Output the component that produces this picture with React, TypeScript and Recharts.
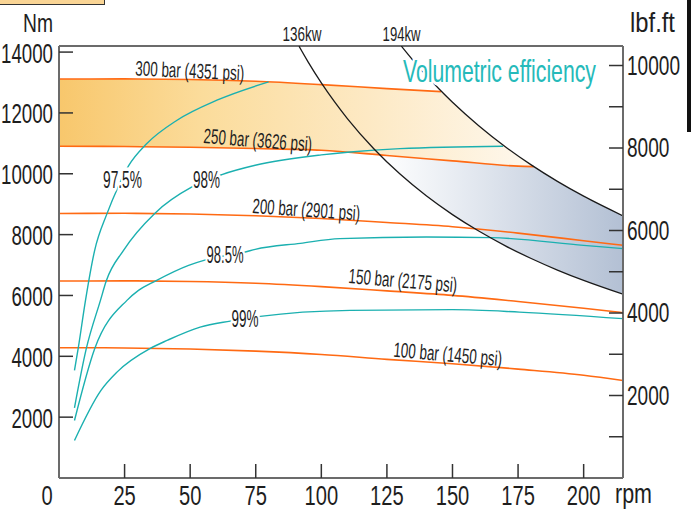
import React from "react";
import {
  Area,
  ComposedChart,
  Line,
  ReferenceDot,
  ReferenceLine,
  XAxis,
  YAxis,
} from "recharts";

const FONT = '"Liberation Sans", Arial, sans-serif';
const ORANGE = "#ff6a13";
const TEAL = "#1bb0b0";
const AXIS = "#6b6b6b";
const INK = "#1e1e1e";

// axes
const X_TICKS = [0, 25, 50, 75, 100, 125, 150, 175, 200];
const NM_TICKS = [2000, 4000, 6000, 8000, 10000, 12000, 14000];
const LBF_TICKS = [1000, 2000, 3000, 4000, 5000, 6000, 7000, 8000, 9000, 10000];
const NM_MAX = 14200;
const LBF_MAX = 10473;

// pressure lines (rpm -> Nm)
const PRESS_RPM = [0, 25, 50, 75, 100, 125, 150, 175, 200, 215];
const BAR_100 = [4283, 4275, 4240, 4170, 4060, 3900, 3757, 3580, 3380, 3207];
const BAR_150 = [6474, 6480, 6460, 6400, 6290, 6150, 6003, 5800, 5580, 5434];
const BAR_200 = [8694, 8700, 8680, 8620, 8530, 8400, 8260, 8050, 7800, 7648];
const BAR_250_RPM = [0, 25, 50, 75, 100, 125, 150, 175, 181];
const BAR_250 = [10905, 10895, 10872, 10830, 10773, 10600, 10425, 10250, 10235];
const BAR_300_RPM = [0, 25, 50, 75, 100, 125, 145.6];
const BAR_300 = [13115, 13118, 13100, 13040, 12930, 12800, 12700];

// power limits
const KW136_RPM = [91.5, 95, 100, 105, 110, 120, 130, 140, 150, 160, 170, 180, 190, 200, 215];
const KW136 = [14193, 13671, 12987, 12369, 11806, 10823, 9990, 9276, 8658, 8117, 7640, 7215, 6835, 6494, 6040];
const KW194_RPM = [130.5, 135, 140, 145, 150, 160, 170, 180, 190, 200, 215];
const KW194 = [14196, 13723, 13233, 12776, 12350, 11579, 10897, 10292, 9750, 9263, 8617];

// shaded bands
const OR_BAND_RPM = [0, 25, 50, 75, 100, 125, 145.6, 150, 155, 160, 165, 170, 175, 181];
const OR_BAND_LOW = [10905, 10895, 10872, 10830, 10773, 10600, 10455, 10425, 10390, 10355, 10320, 10285, 10250, 10235];
const OR_BAND_HIGH = [13115, 13118, 13100, 13040, 12930, 12800, 12700, 12350, 11952, 11579, 11228, 10897, 10586, 10235];
const BL_BAND_RPM = [122.3, 130, 140, 150, 160, 170, 181, 190, 200, 215];
const BL_BAND_LOW = [10620, 9990, 9276, 8658, 8117, 7640, 7175, 6835, 6494, 6040];
const BL_BAND_HIGH = [10620, 10565, 10495, 10425, 10355, 10285, 10235, 9750, 9263, 8617];

// volumetric efficiency
const EFF975_RPM = [5.9, 7.3, 10.1, 13.6, 18.3, 22.7, 26.5, 33.5, 45, 60.2, 79.9];
const EFF975 = [3536, 4250, 5839, 7484, 8690, 9600, 10257, 10993, 11760, 12418, 13020];
const EFF98_RPM = [5.9, 10.4, 15.8, 18, 24.6, 36.4, 50.7, 62.1, 74.8, 100, 111, 130, 169.3];
const EFF98 = [2309, 4250, 5839, 6474, 7484, 8690, 9566, 9974, 10280, 10620, 10717, 10826, 10905];
const EFF985_RPM = [5.9, 13.6, 25.9, 30.3, 36.7, 49.4, 56.2, 71, 74.8, 92, 107, 140, 165, 200, 215];
const EFF985 = [1891, 4250, 5839, 6168, 6474, 6990, 7180, 7428, 7516, 7714, 7868, 7921, 7900, 7648, 7540];
const EFF99_RPM = [5.9, 16, 22.1, 34.8, 41.2, 53.8, 65.3, 76.7, 111, 150, 175.5, 215];
const EFF99 = [1234, 2880, 3480, 4260, 4523, 4960, 5158, 5312, 5510, 5533, 5454, 5237];

const pts = (xs: number[], ys: number[]) => xs.map((rpm, i) => ({ rpm, nm: ys[i] }));
const band = (xs: number[], lo: number[], hi: number[]) =>
  xs.map((rpm, i) => ({ rpm, band: [lo[i], hi[i]] }));

// the drawing uses a narrow technical lettering: squeeze a regular face to the measured width
let measureCtx: CanvasRenderingContext2D | null = null;
function textWidth(text: string, size: number) {
  if (!measureCtx) measureCtx = document.createElement("canvas").getContext("2d");
  if (!measureCtx) return text.length * size * 0.55;
  measureCtx.font = `${size}px ${FONT}`;
  return measureCtx.measureText(text).width;
}

interface TextProps {
  x: number;
  y: number;
  text: string;
  size: number;
  width: number;
  anchor?: "start" | "middle" | "end";
  fill?: string;
  rotate?: number;
  halo?: boolean;
}

function CondText({ x, y, text, size, width, anchor = "start", fill = INK, rotate = 0, halo = false }: TextProps) {
  const sx = width / textWidth(text, size);
  return (
    <text
      transform={`translate(${x} ${y}) rotate(${rotate}) scale(${sx} 1)`}
      fontSize={size}
      fontFamily={FONT}
      textAnchor={anchor}
      fill={fill}
      stroke={halo ? "#fff" : "none"}
      strokeWidth={halo ? 7 : 0}
      strokeLinejoin="round"
      paintOrder="stroke"
    >
      {text}
    </text>
  );
}

const LeftTick = ({ x, y, payload }: any) => {
  const s = String(payload.value);
  return (
    <g>
      <line x1={x} x2={x + 14} y1={y} y2={y} stroke="#333" strokeWidth={1.5} />
      <CondText x={x - 6} y={y + 10.5} text={s} size={28} width={s.length * 10.4} anchor="end" />
    </g>
  );
};

const RightTick = ({ x, y, payload }: any) => {
  const v = payload.value as number;
  const s = String(v);
  return (
    <g>
      <line x1={x - 14} x2={x} y1={y} y2={y} stroke="#333" strokeWidth={1.5} />
      {v % 2000 === 0 && (
        <CondText x={x + 4} y={y + 9} text={s} size={27} width={s.length * 10.6} />
      )}
    </g>
  );
};

const BottomTick = ({ x, y, payload }: any) => {
  const v = payload.value as number;
  const s = String(v);
  return (
    <g>
      {v > 0 && <line x1={x} x2={x} y1={y - 14} y2={y} stroke="#333" strokeWidth={1.5} />}
      <CondText
        x={v === 0 ? x - 12 : x}
        y={y + 27}
        text={s}
        size={27}
        width={s.length * 11.2}
        anchor="middle"
      />
    </g>
  );
};

interface Note {
  rpm: number;
  nm: number;
  text: string;
  size: number;
  width: number;
  anchor?: "start" | "middle" | "end";
  fill?: string;
  rotate?: number;
  halo?: boolean;
}

const NOTES: Note[] = [
  { rpm: 29.0, nm: 13230, text: "300 bar (4351 psi)", size: 21, width: 109, rotate: 2.6 },
  { rpm: 54.9, nm: 11011, text: "250 bar (3626 psi)", size: 21, width: 109, rotate: 4.5 },
  { rpm: 73.6, nm: 8711, text: "200 bar (2901 psi)", size: 21, width: 108, rotate: 4 },
  { rpm: 110.2, nm: 6410, text: "150 bar (2175 psi)", size: 21, width: 109, rotate: 5 },
  { rpm: 127.3, nm: 3987, text: "100 bar (1450 psi)", size: 21, width: 109, rotate: 5 },
  { rpm: 24.2, nm: 9532, text: "97.5%", size: 23, width: 39, anchor: "middle", halo: true },
  { rpm: 56.2, nm: 9532, text: "98%", size: 23, width: 27, anchor: "middle", halo: true },
  { rpm: 63.3, nm: 7067, text: "98.5%", size: 23, width: 37, anchor: "middle", halo: true },
  { rpm: 70.9, nm: 4973, text: "99%", size: 23, width: 27, anchor: "middle", halo: true },
  { rpm: 131.1, nm: 13026, text: "Volumetric  efficiency", size: 32, width: 199, fill: "#25baba", halo: true },
  { rpm: 92.6, nm: 14364, text: "136kw", size: 20, width: 39, anchor: "middle" },
  { rpm: 130.6, nm: 14364, text: "194kw", size: 20, width: 38, anchor: "middle" },
];

export default function App() {
  return (
    <div style={{ position: "absolute", left: 0, top: 0, width: 691, height: 510, background: "#fff" }}>
      <div
        style={{
          position: "absolute",
          left: -2,
          top: -2,
          width: 105,
          height: 5,
          background: "#fad595",
          border: "1.5px solid #333",
        }}
      />
      <div style={{ position: "absolute", left: 687, top: 0, width: 4, height: 132, background: "#111" }} />
      <ComposedChart width={691} height={510} margin={{ top: 46, right: 0, bottom: 0, left: 0 }}>
        <defs>
          <linearGradient id="orangeFill" x1="0" y1="0" x2="1" y2="0">
            <stop offset="0" stopColor="#f8c76c" />
            <stop offset="0.3" stopColor="#fbdc9b" />
            <stop offset="0.65" stopColor="#fde9c4" />
            <stop offset="1" stopColor="#fef8ee" />
          </linearGradient>
          <linearGradient id="blueFill" x1="0" y1="0" x2="1" y2="0">
            <stop offset="0" stopColor="#ffffff" />
            <stop offset="0.3" stopColor="#e9edf3" />
            <stop offset="1" stopColor="#b3c0d4" />
          </linearGradient>
        </defs>
        <XAxis
          type="number"
          dataKey="rpm"
          domain={[0, 215]}
          ticks={X_TICKS}
          allowDataOverflow
          height={32}
          axisLine={{ stroke: AXIS, strokeWidth: 2 }}
          tickLine={false}
          tickSize={0}
          tickMargin={0}
          tick={<BottomTick />}
          interval={0}
        />
        <YAxis
          yAxisId="nm"
          type="number"
          domain={[0, NM_MAX]}
          ticks={NM_TICKS}
          allowDataOverflow
          width={59}
          axisLine={{ stroke: AXIS, strokeWidth: 2 }}
          tickLine={false}
          tickSize={0}
          tickMargin={0}
          tick={<LeftTick />}
          interval={0}
        />
        <YAxis
          yAxisId="lbf"
          orientation="right"
          type="number"
          domain={[0, LBF_MAX]}
          ticks={LBF_TICKS}
          allowDataOverflow
          width={68}
          axisLine={{ stroke: AXIS, strokeWidth: 2 }}
          tickLine={false}
          tickSize={0}
          tickMargin={0}
          tick={<RightTick />}
          interval={0}
        />
        <ReferenceLine yAxisId="nm" y={NM_MAX} stroke={AXIS} strokeWidth={2} />

        <Area
          yAxisId="nm"
          data={band(OR_BAND_RPM, OR_BAND_LOW, OR_BAND_HIGH)}
          dataKey="band"
          type="linear"
          stroke="none"
          fill="url(#orangeFill)"
          fillOpacity={1}
          isAnimationActive={false}
          activeDot={false}
        />
        <Area
          yAxisId="nm"
          data={band(BL_BAND_RPM, BL_BAND_LOW, BL_BAND_HIGH)}
          dataKey="band"
          type="linear"
          stroke="none"
          fill="url(#blueFill)"
          fillOpacity={1}
          isAnimationActive={false}
          activeDot={false}
        />

        {[
          pts(PRESS_RPM, BAR_100),
          pts(PRESS_RPM, BAR_150),
          pts(PRESS_RPM, BAR_200),
          pts(BAR_250_RPM, BAR_250),
          pts(BAR_300_RPM, BAR_300),
        ].map((d, i) => (
          <Line
            key={`bar-${i}`}
            yAxisId="nm"
            data={d}
            dataKey="nm"
            type="monotone"
            stroke={ORANGE}
            strokeWidth={1.6}
            dot={false}
            activeDot={false}
            isAnimationActive={false}
          />
        ))}

        {[
          pts(EFF975_RPM, EFF975),
          pts(EFF98_RPM, EFF98),
          pts(EFF985_RPM, EFF985),
          pts(EFF99_RPM, EFF99),
        ].map((d, i) => (
          <Line
            key={`eff-${i}`}
            yAxisId="nm"
            data={d}
            dataKey="nm"
            type="monotone"
            stroke={TEAL}
            strokeWidth={1.4}
            dot={false}
            activeDot={false}
            isAnimationActive={false}
          />
        ))}

        {[pts(KW136_RPM, KW136), pts(KW194_RPM, KW194)].map((d, i) => (
          <Line
            key={`kw-${i}`}
            yAxisId="nm"
            data={d}
            dataKey="nm"
            type="monotone"
            stroke="#1a1a1a"
            strokeWidth={1.3}
            dot={false}
            activeDot={false}
            isAnimationActive={false}
          />
        ))}

        {NOTES.map((n, i) => (
          <ReferenceDot
            key={`note-${i}`}
            yAxisId="nm"
            x={n.rpm}
            y={n.nm}
            r={0}
            ifOverflow="visible"
            zIndex={2000}
            shape={() => <g />}
            label={{
              content: (p: any) => (
                <CondText
                  x={p.viewBox.x + (p.viewBox.width || 0) / 2}
                  y={p.viewBox.y + (p.viewBox.height || 0) / 2}
                  text={n.text}
                  size={n.size}
                  width={n.width}
                  anchor={n.anchor}
                  fill={n.fill}
                  rotate={n.rotate}
                  halo={n.halo}
                />
              ),
            }}
          />
        ))}

        <CondText x={23} y={32} text="Nm" size={26} width={30} />
        <CondText x={630} y={32} text="lbf.ft" size={27} width={45} />
        <CondText x={615} y={503} text="rpm" size={27} width={37} />
      </ComposedChart>
    </div>
  );
}
